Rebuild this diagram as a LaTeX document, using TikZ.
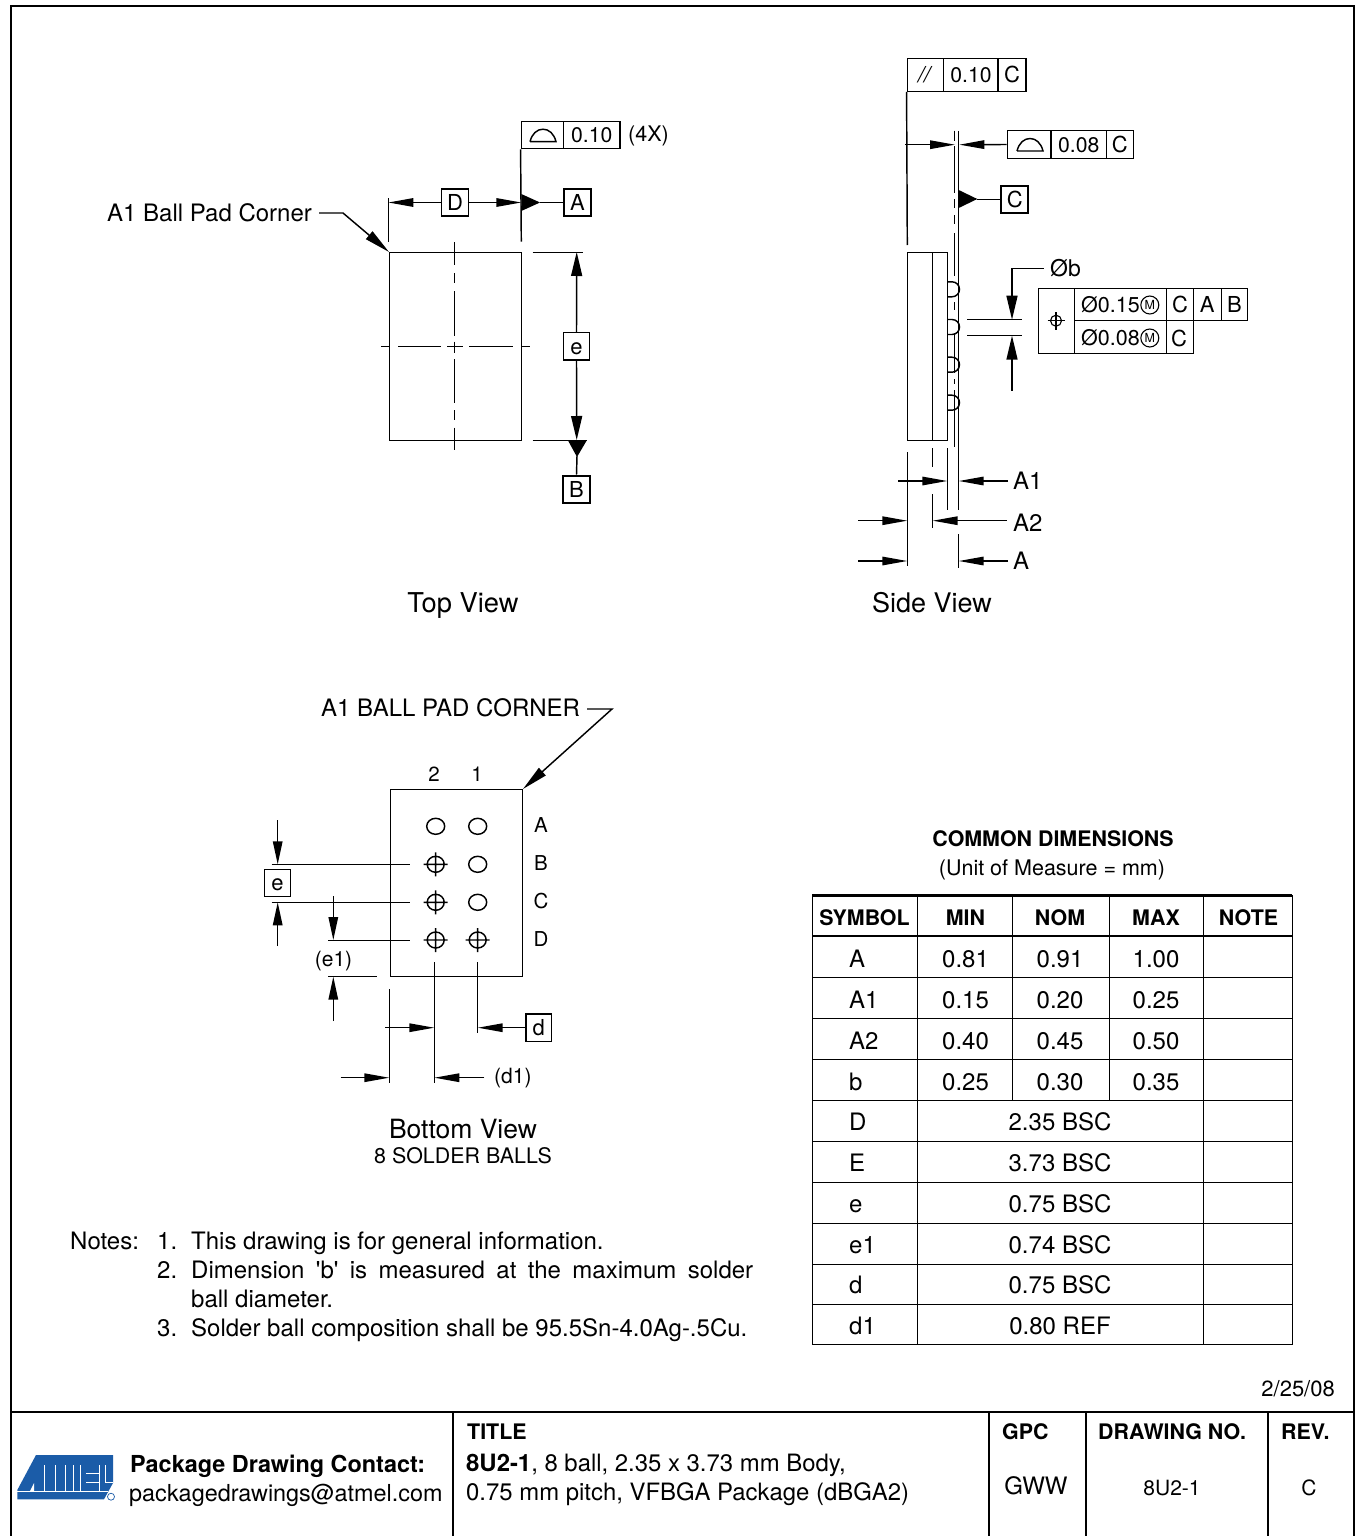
\documentclass[tikz,border=0pt]{standalone}
\usepackage{fontspec}
\setmainfont{TeX Gyre Heros}
\newfontfamily\plainq{TeX Gyre Heros}
\usetikzlibrary{arrows.meta}
\definecolor{logoblue}{HTML}{1B5CA8}
\newcommand{\fs}[1]{\fontsize{#1}{#1}\selectfont}
\newcommand{\profsym}[2]{\draw[ln] (#1-13,#2) -- (#1+13,#2) .. controls (#1+11,#2-8) and (#1+6,#2-12.5) .. (#1,#2-12.5) .. controls (#1-6,#2-12.5) and (#1-11,#2-8) .. (#1-13,#2);}
\newcommand{\xhair}[2]{\draw[ln] (#1-12,#2) -- (#1+12,#2) (#1,#2-12) -- (#1,#2+12) (#1,#2) ellipse [x radius=8.5,y radius=8];}
\newcommand{\ball}[2]{\draw[ln] (#1,#2) ellipse [x radius=9,y radius=8];}
\newcommand{\sball}[1]{\draw[ln] (947.3,#1-7.5) -- (952,#1-7.5) .. controls (956.2,#1-7.5) and (959.5,#1-4.2) .. (959.5,#1) .. controls (959.5,#1+4.2) and (956.2,#1+7.5) .. (952,#1+7.5) -- (947.3,#1+7.5);}
\tikzset{
 fsz/.style={font=\fs{#1},text height={0.72pt*#1},text depth=0pt},
 fszb/.style={font=\fs{#1}\bfseries,text height={0.72pt*#1},text depth=0pt},
 ln/.style={line width=1.45pt,line cap=butt},
 heavy/.style={line width=2.4pt},
 ha/.style={ln,-{Triangle[length=25pt,width=8.5pt]}},
 va/.style={ln,-{Triangle[length=24pt,width=11pt]}},
 lead/.style={ln,-{Triangle[length=26pt,width=10pt]}},
 sa/.style={ln,-{Triangle[length=23pt,width=9.5pt]}},
 bx/.style={draw,line width=1.45pt,inner sep=0pt,minimum height=27.5pt,fsz=22},
 num/.style={fsz=21.2},
 dat/.style={bx,line width=1.9pt,minimum width=27pt},
 txt/.style={inner sep=0pt,fsz=24},
 ltxt/.style={txt,anchor=west},
 viewcap/.style={inner sep=0pt,fsz=27},
 tb/.style={inner sep=0pt,fsz=24},
 tbh/.style={inner sep=0pt,fszb=21.4},
 blk/.style={inner sep=0pt,anchor=west,fszb=21.4},
}
\begin{document}
\begin{tikzpicture}[x=1pt,y=-1pt]
\useasboundingbox (0,0) rectangle (1358,1536);
\fill[white] (0,0) rectangle (1358,1536);
% frame
\draw[heavy] (11,1538) -- (11,6) -- (1354,6) -- (1354,1538);
\draw[heavy] (11,1412) -- (1354,1412);
\foreach \x in {453,989,1086,1268} \draw[heavy] (\x,1412) -- (\x,1538);

% ---------- TOP VIEW
\draw[ln] (389.4,252.4) rectangle (521.6,440.4);
\foreach \a/\b in {242.3/265,273.3/283.3,291/336,341.7/353.3,359/402.7,410/420,427.7/450} \draw[ln] (454.5,\a) -- (454.5,\b);
\foreach \a/\b in {381/389,398.3/441,447.3/462.7,469.3/512.7,521.7/530} \draw[ln] (\a,346.5) -- (\b,346.5);
% profile box
\node[bx,minimum width=42pt] (tp1) at (542.3,135) {};
\node[bx,num,minimum width=56.7pt] (tp2) at (591.7,135) {0.10};
\profsym{543}{141.7}
\node[ltxt,fsz=21.5] (t4x) at (628,133.5) {(4X)};
\coordinate (tpl) at (521.3,241.7);
\draw[ln] (tp1.south west) -- (tpl);
\coordinate (dl) at (388.3,241.7);
\coordinate (dlt) at (388.3,198);
\draw[ln] (dlt) -- (dl);
\node[dat] (bD) at (455,202.5) {D};
\node[dat] (bA) at (577.5,202.5) {A};
\coordinate (dtipL) at (388.3,202.5);
\coordinate (dtipR) at (521.3,202.5);
\draw[ha] (bD.west) -- (dtipL);
\draw[ha] (bD.east) -- (dtipR);
\fill (521.3,194) -- (540,202.5) -- (521.3,211) -- cycle;
\draw[ln] (540,202.5) -- (bA.west);
\coordinate (ext1) at (532.7,252.4); \coordinate (ext1e) at (582.7,252.4);
\coordinate (ext2) at (532.7,440.5); \coordinate (ext2e) at (586.7,440.5);
\draw[ln] (ext1) -- (ext1e);
\draw[ln] (ext2) -- (ext2e);
\node[bx,minimum width=25.6pt] (be) at (576.5,346.3) {e};
\node[dat] (bB) at (576.5,489.3) {B};
\coordinate (etop) at (576.7,252); \coordinate (ebot) at (576.7,440);
\draw[va] (be.north) -- (etop);
\draw[va] (be.south) -- (ebot);
\fill (568,440.5) -- (586.7,440.5) -- (577,457) -- cycle;
\draw[ln] (577,456) -- (bB.north);
\node[ltxt] (tcorner) at (107,213) {A1 Ball Pad Corner};
\coordinate (c1) at (319,213); \coordinate (c2) at (343,213); \coordinate (c3) at (389,252);
\draw[lead] (c1) -- (c2) -- (c3);
\node[viewcap,fsz=27.3] (ttop) at (463,603) {Top View};

% ---------- SIDE VIEW
\draw[ln] (907.4,252.4) rectangle (947.4,440.6);
\draw[ln] (932.7,252.4) -- (932.7,440.6);
\foreach \y in {289.3,327,364.7,402.7} \sball{\y}
\foreach \a/\b in {131/141,146/193,199/208,215/224,233/276,302/310,333/373,379/384,390/447} \draw[ln] (954.6,\a) -- (954.6,\b);
\draw[ln] (958.7,131) -- (958.7,510);
\draw[ln] (958.7,534) -- (958.7,568);
\node[bx,minimum width=36pt,minimum height=32.5pt] (p1) at (925.3,75) {\textit{//}};
\node[bx,num,minimum width=55pt,minimum height=32.5pt] (p2) at (971,75) {0.10};
\node[bx,minimum width=27.7pt,minimum height=32.5pt] (p3) at (1012,75) {C};
\coordinate (pl) at (907.3,245);
\draw[ln] (p1.south west) -- (pl);
\node[bx,minimum width=43.4pt] (q1) at (1029,144.5) {};
\node[bx,num,minimum width=55.6pt] (q2) at (1078.7,144.5) {0.08};
\node[bx,minimum width=27pt] (q3) at (1119.8,144.5) {C};
\profsym{1030}{151}
\coordinate (qa) at (905,144.7); \coordinate (qb) at (955,144.7); \coordinate (qc) at (959.3,144.7);
\draw[ha] (qa) -- (qb);
\draw[ha] (q1.west) -- (qc);
\node[dat] (bC) at (1014.7,199.5) {C};
\fill (958.7,190) -- (977.3,199) -- (958.7,208) -- cycle;
\draw[ln] (977,199.5) -- (bC.west);
% b dimension
\node[ltxt,fsz=23] (tb) at (1050,268) {Øb};
\coordinate (b1) at (1043.7,268.3); \coordinate (b2) at (1012,268.3); \coordinate (b3) at (1012,319.7);
\draw[va] (b1) -- (b2) -- (b3);
\coordinate (b4) at (1012,390.7); \coordinate (b5) at (1012,335.7);
\draw[va] (b4) -- (b5);
\coordinate (l1) at (967,319.7); \coordinate (l2) at (1022.3,319.7);
\coordinate (l3) at (967,335.7); \coordinate (l4) at (1022.3,335.7);
\draw[ln] (l1) -- (l2); \draw[ln] (l3) -- (l4);
% position control frame
\node[bx,minimum width=36.4pt,minimum height=65pt] (f0) at (1056.5,320.8) {};
\draw[line width=1.1pt] (1056,320.7) circle [radius=5.5];
\draw[line width=1.1pt] (1047.5,320.7) -- (1064.5,320.7) (1056,312) -- (1056,329.5);
\node[bx,minimum width=92pt,minimum height=32.5pt] (f1) at (1120.7,304.5) {};
\node[bx,minimum width=92pt,minimum height=32.5pt] (f2) at (1120.7,337) {};
\node[ltxt,fsz=21.5] (f1t) at (1081,305) {Ø0.15};
\node[ltxt,fsz=21.5] (f2t) at (1081,338) {Ø0.08};
\node[draw,circle,line width=1.1pt,inner sep=0pt,minimum size=18pt,font=\fs{12.5}] (m1) at (1149.8,305) {M};
\node[draw,circle,line width=1.1pt,inner sep=0pt,minimum size=18pt,font=\fs{12.5}] (m2) at (1149.8,338) {M};
\node[bx,minimum width=26.6pt,minimum height=32.5pt] (f3) at (1180,304.5) {C};
\node[bx,minimum width=28pt,minimum height=32.5pt] (f4) at (1207.3,304.5) {A};
\node[bx,minimum width=26.4pt,minimum height=32.5pt] (f5) at (1234.5,304.5) {B};
\node[bx,minimum width=26.6pt,minimum height=32.5pt] (f6) at (1180,337) {};
\node[inner sep=0pt,fsz=22] (f6t) at (1179,339) {C};
% lower dimension lines
\foreach \a/\b/\c/\d in {907.3/452.3/907.3/566,932.7/448/932.7/466.7,932.7/494/932.7/528,947.3/448/947.3/510} \draw[ln] (\a,\b) -- (\c,\d);
\node[ltxt] (tA1) at (1013,481) {A1};
\node[ltxt] (tA2) at (1013,522.5) {A2};
\node[ltxt] (tA) at (1013,561) {A};
\coordinate (a1l) at (898.3,481); \coordinate (a1lt) at (947.3,481);
\coordinate (a1r) at (1008,481); \coordinate (a1rt) at (958.7,481);
\coordinate (a2l) at (858,520.7); \coordinate (a2lt) at (907.3,520.7);
\coordinate (a2r) at (1006.7,520.7); \coordinate (a2rt) at (932.7,520.7);
\coordinate (al) at (858,561); \coordinate (alt) at (907.3,561);
\coordinate (ar) at (1008,561); \coordinate (art) at (958.7,561);
\draw[ha] (a1l) -- (a1lt); \draw[ha] (a1r) -- (a1rt);
\draw[ha] (a2l) -- (a2lt); \draw[ha] (a2r) -- (a2rt);
\draw[ha] (al) -- (alt); \draw[ha] (ar) -- (art);
\node[viewcap] (tside) at (932,603) {Side View};

% ---------- BOTTOM VIEW
\draw[ln] (390.4,789.4) rectangle (522.6,976.6);
\node[ltxt] (tc) at (321,708) {A1 BALL PAD CORNER};
\coordinate (d1) at (587,709); \coordinate (d2) at (612,709); \coordinate (d3) at (523,789);
\draw[lead] (d1) -- (d2) -- (d3);
\node[txt,fsz=20.5] (n2) at (434,774) {2};
\node[txt,fsz=20.5] (n1) at (477,774) {1};
\node[txt,fsz=20.5] (rA) at (541,825) {A};
\node[txt,fsz=20.5] (rB) at (541,863) {B};
\node[txt,fsz=20.5] (rC) at (541,901) {C};
\node[txt,fsz=20.5] (rD) at (541,939) {D};
\ball{435.7}{826.3} \ball{477.7}{826.3}
\xhair{435.7}{864.3} \ball{477.7}{864.3}
\xhair{435.7}{902.3} \ball{477.7}{902.3}
\xhair{435.7}{940} \xhair{477.7}{940}
\foreach \a/\y/\b in {271.7/864.4/410.3,271.7/902.4/410.3,328.3/940.4/410.3,328.3/976.6/376.7} \draw[ln] (\a,\y) -- (\b,\y);
\node[bx,minimum width=25.6pt,minimum height=27.3pt] (be2) at (277.5,883) {e};
\coordinate (e1) at (277.7,820); \coordinate (e2) at (277.7,864.3);
\coordinate (e3) at (277.7,946); \coordinate (e4) at (277.7,902.3);
\draw[sa] (e1) -- (e2);
\draw[sa] (e3) -- (e4);
\coordinate (g1) at (333.3,896); \coordinate (g2) at (333.3,940);
\coordinate (g3) at (333.3,1021); \coordinate (g4) at (333.3,976.7);
\draw[sa] (g1) -- (g2);
\draw[sa] (g3) -- (g4);
\node[txt,fsz=21] (te1) at (333.5,958.5) {(e1)};
\foreach \x/\a/\b in {434.3/962.3/1082.7,477.7/962.3/1033.3,389.3/989/1082.7} \draw[ln] (\x,\a) -- (\x,\b);
\node[bx,minimum width=25.7pt] (bd) at (538.8,1027.7) {d};
\coordinate (h1) at (385,1027.7); \coordinate (h2) at (434.3,1027.7); \coordinate (h3) at (477.7,1027.7);
\draw[ha] (h1) -- (h2); \draw[ha] (bd.west) -- (h3);
\coordinate (k1) at (340.7,1077.7); \coordinate (k2) at (389.3,1077.7); \coordinate (k3) at (484.3,1077.7); \coordinate (k4) at (434.3,1077.7);
\draw[ha] (k1) -- (k2); \draw[ha] (k3) -- (k4);
\node[ltxt,fsz=21] (td1) at (494,1076) {(d1)};
\node[viewcap,fsz=26.5] (tbot) at (463,1129) {Bottom View};
\node[txt,fsz=21.4] (tsb) at (463,1155.5) {8 SOLDER BALLS};

% ---------- NOTES
\node[ltxt] (nn) at (70,1241) {Notes:};
\node[ltxt] (n1n) at (157,1241) {1.};
\node[ltxt] (n1t) at (191,1241) {This drawing is for general information.};
\node[ltxt] (n2n) at (157,1270) {2.};
\node[ltxt] (n2t) at (191,1270) {\makebox[562pt][s]{Dimension {\plainq 'b'} is measured at the maximum solder}};
\node[ltxt] (n2u) at (191,1299) {ball diameter.};
\node[ltxt] (n3n) at (157,1328) {3.};
\node[ltxt] (n3t) at (191,1328) {Solder ball composition shall be 95.5Sn-4.0Ag-.5Cu.};

% ---------- TABLE
\node[tbh] (tcd) at (1053,839) {COMMON DIMENSIONS};
\node[tb,fsz=21.5] (tum) at (1052,868) {(Unit of Measure = mm)};
\draw[line width=3.4pt] (812.3,895.3) -- (1292.3,895.3);
\draw[line width=2pt] (812.3,936) -- (1292.3,936);
\foreach \y in {977.5,1018.5,1059.5,1100.5,1141.5,1182.5,1223.5,1264.5,1304.5,1344.5} \draw[ln] (812.3,\y) -- (1292.3,\y);
\foreach \x in {812.5,917.5,1203.5,1292.5} \draw[ln] (\x,895.3) -- (\x,1344.5);
\foreach \x in {1012.5,1109.5} \draw[ln] (\x,895.3) -- (\x,1100.5);
\node[tbh] (hS) at (864.5,918) {SYMBOL};
\node[tbh] (hM) at (965.5,918) {MIN};
\node[tbh] (hN) at (1060,918) {NOM};
\node[tbh] (hX) at (1156,918) {MAX};
\node[tbh] (hO) at (1248.5,918) {NOTE};
\foreach \n/\s/\y in {a/A/959,b/A1/1000,c/A2/1041,d/b/1082,e/D/1122,f/E/1163,g/e/1204,h/e1/1245,i/d/1285,j/d1/1326}
  \node[tb,anchor=west] (s\n) at (849,\y) {\s};
\foreach \n/\p/\q/\r/\y in {a/0.81/0.91/1.00/959,b/0.15/0.20/0.25/1000,c/0.40/0.45/0.50/1041,d/0.25/0.30/0.35/1082} {
  \node[tb] (v\n1) at (965.5,\y) {\p};
  \node[tb] (v\n2) at (1060,\y) {\q};
  \node[tb] (v\n3) at (1156,\y) {\r};
}
\foreach \n/\p/\y in {e/2.35 BSC/1122,f/3.73 BSC/1163,g/0.75 BSC/1204,h/0.74 BSC/1245,i/0.75 BSC/1285,j/0.80 REF/1326}
  \node[tb] (w\n) at (1060,\y) {\p};

\node[inner sep=0pt,anchor=east,fsz=22] (tdate) at (1335,1389) {2/25/08};

% ---------- TITLE BLOCK
\fill[logoblue] (36,1455) -- (113,1455) -- (113,1483) -- (104,1499.3) -- (17.3,1499.3) -- (17.3,1490) -- cycle;
\draw[white,line width=1pt] (17,1491) -- (108,1491);
\foreach \x in {44.5,55,65,73.7,80.5,99} \draw[white,line width=.9pt] (\x,1465) -- (\x,1491);
\draw[white,line width=.9pt] (86,1473.5) -- (99,1473.5) (86,1482) -- (99,1482) (105.5,1465) -- (105.5,1482.5) -- (113,1482.5);
\fill[white] (30,1491) -- (34,1483) -- (34,1491) -- cycle;
\draw[logoblue,line width=0.7pt] (111,1496.7) circle [radius=3.5];
\node[blk,fszb=23.4] (tpk) at (130,1464) {Package Drawing Contact:};
\node[ltxt,fsz=23.4] (tem) at (129,1493) {packagedrawings@atmel.com};
\node[blk] (ttl) at (467,1432) {TITLE};
\node[ltxt,fsz=23.9] (tl1) at (466,1463) {\textbf{8U2-1}, 8 ball, 2.35 x 3.73 mm Body,};
\node[ltxt,fsz=23.9] (tl2) at (466,1492) {0.75 mm pitch, VFBGA Package (dBGA2)};
\node[blk] (tgpc) at (1002,1432) {GPC};
\node[tb] (tgww) at (1036,1486) {GWW};
\node[blk] (tdn) at (1098,1432) {DRAWING NO.};
\node[tb,fsz=21] (tdv) at (1172,1488) {8U2-1};
\node[blk] (trv) at (1281,1432) {REV.};
\node[tb,fsz=21] (trc) at (1309,1488) {C};
\end{tikzpicture}
\end{document}
